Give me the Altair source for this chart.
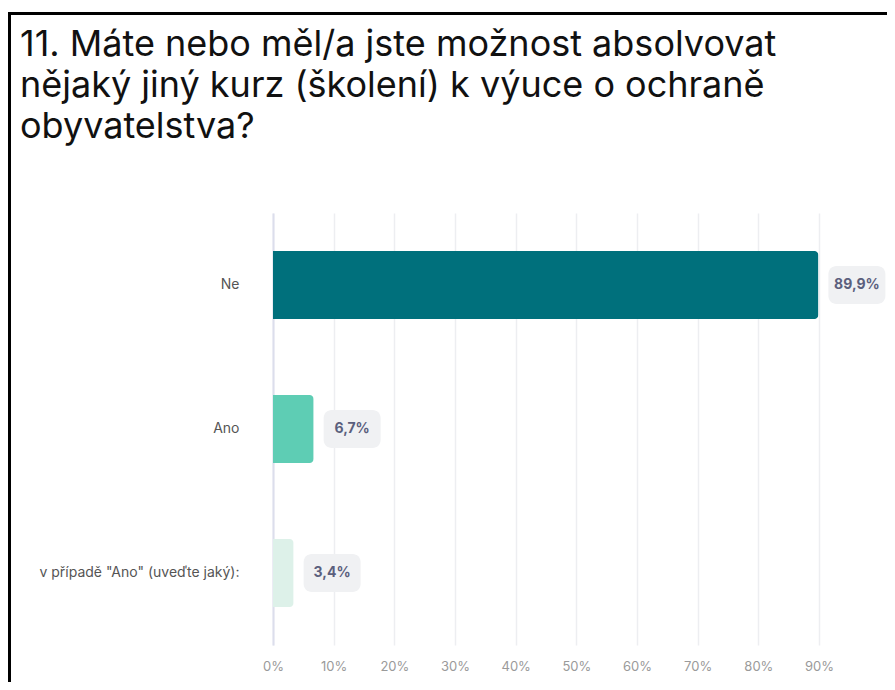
import altair as alt
import pandas as pd

categories = ["Ne", "Ano", 'v případě "Ano" (uveďte jaký):']
values = [89.9, 6.7, 3.4]
bar_colors = ["#00707C", "#5ECDB4", "#DDF1E9"]
tick_values = [0, 10, 20, 30, 40, 50, 60, 70, 80, 90]
title_lines = [
    "11. Máte nebo měl/a jste možnost absolvovat",
    "nějaký jiný kurz (školení) k výuce o ochraně",
    "obyvatelstva?",
]

df = pd.DataFrame({
    "cat": categories,
    "pct": values,
    "label": [f"{v:.1f}".replace(".", ",") + "%" for v in values],
})

W, H = 546, 432
PL, PT, PR, PB = 265, 205, 68, 37

x_enc = alt.X(
    "pct:Q",
    scale=alt.Scale(domain=[0, 90], nice=False),
    axis=alt.Axis(
        values=tick_values, labelExpr="datum.value + '%'", title=None,
        ticks=False, domain=False, grid=True, gridColor="#EDEEF1", gridWidth=1.5,
        labelColor="#9A9A9A", labelFont="Inter", labelFontSize=13, labelPadding=15,
        labelFlush=False,
    ),
)
y_enc = alt.Y(
    "cat:N", sort=categories, title=None,
    scale=alt.Scale(paddingInner=0, paddingOuter=0),
    axis=alt.Axis(
        ticks=False, domain=True, domainColor="#DCDEEC", domainWidth=2,
        labelColor="#555555", labelFont="Inter", labelFontSize=14, labelPadding=34,
        labelLimit=300,
    ),
)

base = alt.Chart(df)

bars = base.mark_bar(size=68, cornerRadiusEnd=4).encode(
    x=x_enc,
    y=y_enc,
    color=alt.Color("cat:N", scale=alt.Scale(domain=categories, range=bar_colors), legend=None),
)

boxes = base.mark_bar(
    size=38, cornerRadius=8, color="#F0F1F3", xOffset=10, x2Offset=67,
).encode(
    x=alt.X("pct:Q"),
    x2="pct:Q",
    y=alt.Y("cat:N", sort=categories),
)

texts = base.mark_text(
    align="center", baseline="middle", dx=38.5, font="Inter", fontSize=14,
    fontWeight="bold", color="#5B5F7D",
).encode(
    x=alt.X("pct:Q"),
    y=alt.Y("cat:N", sort=categories),
    text="label:N",
)

frame_df = pd.DataFrame({"k": [0]})
frame_top = alt.Chart(frame_df).mark_rule(color="black", strokeWidth=3).encode(
    x=alt.value(-PL + 1), x2=alt.value(W + PR), y=alt.value(-PT + 5.5),
)
frame_left = alt.Chart(frame_df).mark_rule(color="black", strokeWidth=3).encode(
    x=alt.value(-PL + 1.5), y=alt.value(-PT + 4), y2=alt.value(H + PB),
)

chart = alt.layer(bars, boxes, texts, frame_top, frame_left).properties(
    width=W,
    height=H,
    background="white",
    autosize=alt.AutoSizeParams(type="none"),
    padding={"left": PL, "top": PT, "right": PR, "bottom": PB},
    title=alt.TitleParams(
        text=title_lines, anchor="start", frame="group", dx=-253, dy=135,
        font="Inter", fontSize=36, fontWeight="normal", color="#111111",
        lineHeight=41, baseline="top", offset=0,
    ),
).configure_view(stroke=None)

chart.save("out.html", embed_options={"renderer": "svg", "actions": False})
